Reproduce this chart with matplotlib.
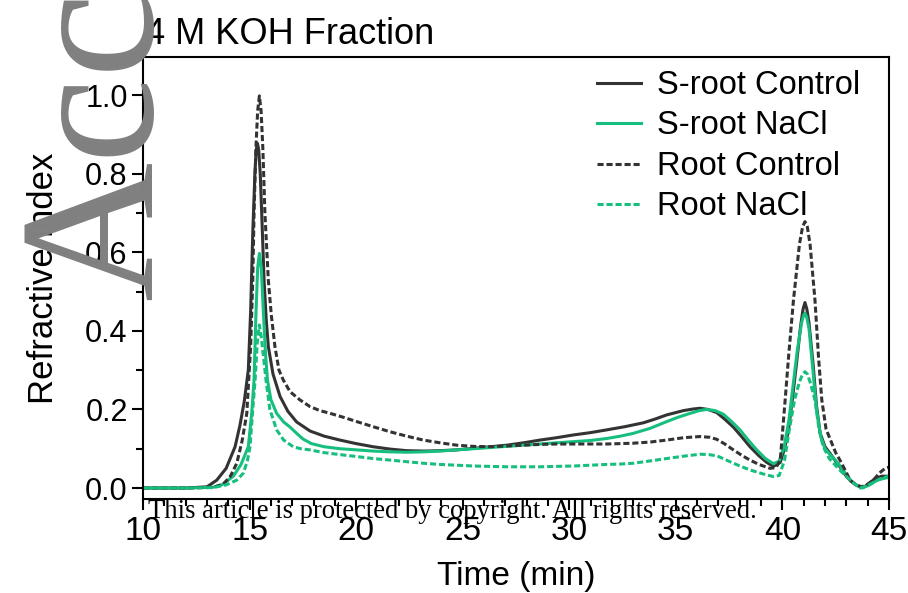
import matplotlib
matplotlib.use("Agg")
import matplotlib.pyplot as plt
from matplotlib.ticker import MultipleLocator

plt.rcParams['font.family'] = ['Liberation Sans', 'DejaVu Sans']

# --- data (time in min, refractive index) ---
t_sctrl = [10, 12, 13.0, 13.46, 13.9, 14.32, 14.55, 14.75, 14.94, 15.05, 15.15, 15.25, 15.31,
           15.37, 15.43, 15.5, 15.57, 15.68, 15.78, 15.88, 16.1, 16.43, 16.8, 17.21, 17.84,
           18.5, 19.24, 20.0, 20.8, 21.6, 22.37, 23.2, 23.94, 24.7, 25.5, 26.3, 27.07, 27.85,
           28.63, 29.4, 30.19, 31.0, 31.76, 32.6, 33.48, 34.0, 34.57, 35.0, 35.36, 35.8, 36.14,
           36.5, 36.92, 37.3, 37.7, 38.1, 38.48, 38.9, 39.27, 39.58, 39.9, 40.1, 40.28, 40.5,
           40.67, 40.85, 40.97, 41.06, 41.15, 41.25, 41.45, 41.6, 41.77, 42.0, 42.24, 42.5,
           42.7, 43.0, 43.2, 43.5, 43.8, 44.05, 44.3, 44.65, 45.0]
v_sctrl = [0, 0, 0.003, 0.02, 0.05, 0.105, 0.16, 0.22, 0.3, 0.45, 0.65, 0.8, 0.86,
           0.877, 0.86, 0.8, 0.699, 0.529, 0.43, 0.36, 0.29, 0.233, 0.195, 0.168, 0.145,
           0.132, 0.122, 0.113, 0.105, 0.099, 0.095, 0.094, 0.095, 0.097, 0.101, 0.105, 0.109,
           0.115, 0.122, 0.128, 0.135, 0.141, 0.148, 0.156, 0.166, 0.175, 0.186, 0.192, 0.197,
           0.201, 0.203, 0.2, 0.192, 0.175, 0.155, 0.13, 0.105, 0.082, 0.065, 0.055, 0.065,
           0.1, 0.145, 0.24, 0.32, 0.41, 0.455, 0.472, 0.455, 0.42, 0.31, 0.21, 0.14, 0.105,
           0.088, 0.068, 0.054, 0.03, 0.018, 0.006, 0.002, 0.01, 0.022, 0.03, 0.03]

t_snacl = [10, 12, 13.3, 13.7, 14.24, 14.6, 14.94, 15.1, 15.21, 15.3, 15.38, 15.46, 15.55,
           15.65, 15.75, 15.84, 16.0, 16.27, 16.6, 16.9, 17.21, 17.5, 17.9, 18.5, 19.24, 20.03,
           20.8, 21.6, 22.37, 23.15, 23.94, 24.72, 25.5, 26.28, 27.07, 27.85, 28.63, 29.4,
           30.19, 31.0, 31.76, 32.4, 33.0, 33.8, 34.57, 35.1, 35.67, 36.1, 36.45, 36.85, 37.23,
           37.6, 38.01, 38.4, 38.8, 39.2, 39.58, 39.85, 40.1, 40.3, 40.5, 40.7, 40.9, 41.0,
           41.06, 41.14, 41.25, 41.45, 41.6, 41.8, 42.0, 42.24, 42.5, 42.8, 43.1, 43.4, 43.75,
           44.1, 44.45, 44.8, 45.0]
v_snacl = [0, 0, 0.002, 0.008, 0.03, 0.06, 0.105, 0.19, 0.275, 0.445, 0.56, 0.597, 0.56,
           0.445, 0.34, 0.275, 0.225, 0.19, 0.168, 0.155, 0.139, 0.125, 0.113, 0.105, 0.1,
           0.097, 0.094, 0.092, 0.091, 0.092, 0.094, 0.097, 0.1, 0.103, 0.106, 0.109, 0.112,
           0.115, 0.118, 0.121, 0.126, 0.132, 0.139, 0.152, 0.169, 0.18, 0.19, 0.197, 0.2,
           0.197, 0.188, 0.17, 0.148, 0.122, 0.097, 0.075, 0.062, 0.068, 0.11, 0.17, 0.26,
           0.35, 0.42, 0.44, 0.445, 0.435, 0.405, 0.29, 0.2, 0.13, 0.1, 0.085, 0.07, 0.05,
           0.025, 0.01, 0.0, 0.008, 0.02, 0.025, 0.027]

t_rctrl = [10, 12, 13.3, 13.77, 14.1, 14.4, 14.65, 14.87, 15.05, 15.15, 15.21, 15.3, 15.38,
           15.46, 15.54, 15.62, 15.72, 15.88, 16.02, 16.19, 16.38, 16.58, 16.9, 17.37, 17.84,
           18.3, 18.78, 19.4, 20.03, 20.8, 21.6, 22.37, 23.15, 23.94, 24.72, 25.5, 26.28,
           27.07, 27.85, 28.63, 29.4, 30.2, 31.0, 31.76, 32.4, 33.0, 33.8, 34.57, 35.36, 36.14,
           36.6, 36.92, 37.3, 37.7, 38.1, 38.48, 38.9, 39.42, 39.7, 39.9, 40.13, 40.3, 40.52,
           40.8, 40.95, 41.06, 41.17, 41.3, 41.53, 41.7, 41.85, 42.05, 42.32, 42.5, 42.7,
           42.95, 43.18, 43.45, 43.72, 44.0, 44.27, 44.55, 44.82, 45.0]
v_rctrl = [0, 0, 0.002, 0.01, 0.03, 0.063, 0.12, 0.19, 0.36, 0.529, 0.699, 0.869, 0.96,
           0.998, 0.96, 0.869, 0.699, 0.529, 0.44, 0.36, 0.3, 0.275, 0.245, 0.224, 0.207,
           0.197, 0.19, 0.18, 0.169, 0.156, 0.143, 0.132, 0.122, 0.115, 0.109, 0.106, 0.105,
           0.107, 0.109, 0.111, 0.112, 0.112, 0.112, 0.112, 0.113, 0.114, 0.117, 0.122, 0.128,
           0.131, 0.129, 0.124, 0.112, 0.097, 0.083, 0.071, 0.06, 0.05, 0.052, 0.071, 0.224,
           0.34, 0.478, 0.62, 0.665, 0.678, 0.665, 0.62, 0.478, 0.33, 0.224, 0.15, 0.114, 0.09,
           0.071, 0.045, 0.02, 0.008, 0.003, 0.01, 0.02, 0.038, 0.05, 0.053]

t_rnacl = [10, 12, 13.3, 13.9, 14.4, 14.71, 14.9, 15.02, 15.15, 15.26, 15.36, 15.46, 15.56,
           15.66, 15.77, 15.95, 16.27, 16.6, 17.05, 17.4, 17.84, 18.5, 19.24, 20.03, 20.8,
           21.6, 22.37, 23.15, 23.94, 24.72, 25.5, 26.28, 27.07, 27.85, 28.63, 29.4, 30.19,
           31.0, 31.76, 32.4, 33.0, 33.8, 34.57, 35.36, 36.14, 36.55, 36.92, 37.3, 37.7, 38.1,
           38.48, 38.9, 39.27, 39.6, 39.85, 40.1, 40.3, 40.57, 40.8, 40.95, 41.06, 41.17, 41.3,
           41.53, 41.72, 41.92, 42.2, 42.55, 42.8, 43.02, 43.35, 43.65, 43.95, 44.3, 44.65,
           45.0]
v_rnacl = [0, 0, 0.001, 0.008, 0.02, 0.038, 0.07, 0.105, 0.2, 0.275, 0.37, 0.415, 0.38,
           0.33, 0.275, 0.2, 0.148, 0.122, 0.105, 0.1, 0.097, 0.09, 0.085, 0.08, 0.075,
           0.071, 0.067, 0.063, 0.06, 0.058, 0.056, 0.055, 0.054, 0.054, 0.054, 0.055, 0.056,
           0.058, 0.06, 0.061, 0.063, 0.069, 0.075, 0.081, 0.086, 0.085, 0.082, 0.073, 0.063,
           0.054, 0.046, 0.039, 0.033, 0.029, 0.032, 0.07, 0.14, 0.224, 0.27, 0.29, 0.296,
           0.29, 0.27, 0.224, 0.15, 0.105, 0.075, 0.054, 0.04, 0.029, 0.012, 0.0, 0.005,
           0.015, 0.025, 0.03]

series_labels = ['S-root Control', 'S-root NaCl', 'Root Control', 'Root NaCl']
x_ticks = [10, 15, 20, 25, 30, 35, 40, 45]
y_ticks = [0.0, 0.2, 0.4, 0.6, 0.8, 1.0]

dark = '#333333'
green = '#17bf7e'
dash = (0, (2.0, 0.95))

fig = plt.figure(figsize=(9.08, 5.93), dpi=100)
ax = fig.add_axes([0.1575, 0.1585, 0.8215, 0.7454])

ax.plot(t_sctrl, v_sctrl, color=dark, lw=2.2, label=series_labels[0], solid_joinstyle='round')
ax.plot(t_snacl, v_snacl, color=green, lw=2.2, label=series_labels[1], solid_joinstyle='round')
ax.plot(t_rctrl, v_rctrl, color=dark, lw=2.2, ls=dash, label=series_labels[2])
ax.plot(t_rnacl, v_rnacl, color=green, lw=2.2, ls=dash, label=series_labels[3])

ax.set_xlim(10, 45)
ax.set_ylim(-0.028, 1.097)
ax.set_xticks(x_ticks)
ax.set_yticks(y_ticks)
ax.set_yticklabels(['%.1f' % v for v in y_ticks])
ax.xaxis.set_minor_locator(MultipleLocator(1))
ax.yaxis.set_minor_locator(MultipleLocator(0.1))

for s in ax.spines.values():
    s.set_linewidth(1.5)
ax.tick_params(which='major', direction='out', length=8, width=1.5)
ax.tick_params(which='minor', direction='out', length=5, width=1.5)
ax.tick_params(axis='x', labelsize=24, pad=4)
ax.tick_params(axis='y', labelsize=22, pad=3)

ax.set_xlabel('Time (min)', fontsize=24, labelpad=10)
ax.set_ylabel('Refractive Index', fontsize=25, labelpad=18)
ax.set_title('4 M KOH Fraction', fontsize=26, loc='left', pad=9, x=0.003)

ax.legend(loc='upper left', bbox_to_anchor=(597 / 908, 1 - 70 / 593),
          bbox_transform=fig.transFigure, frameon=False, fontsize=23.5,
          handlelength=1.35, handletextpad=0.5, labelspacing=0.29, borderpad=0,
          borderaxespad=0)

# journal watermarks
fig.text(151 / 908, 1 - 300 / 593, 'Acc', family='Liberation Serif', fontsize=139,
         color='#808080', rotation=90, rotation_mode='anchor', ha='left', va='baseline',
         zorder=10)
fig.text(148 / 908, 1 - 518 / 593, 'This article is protected by copyright. All rights reserved.',
         family='Liberation Serif', fontsize=19.2, color='black', ha='left', va='baseline',
         zorder=10)

plt.savefig('out.png', dpi=100)
